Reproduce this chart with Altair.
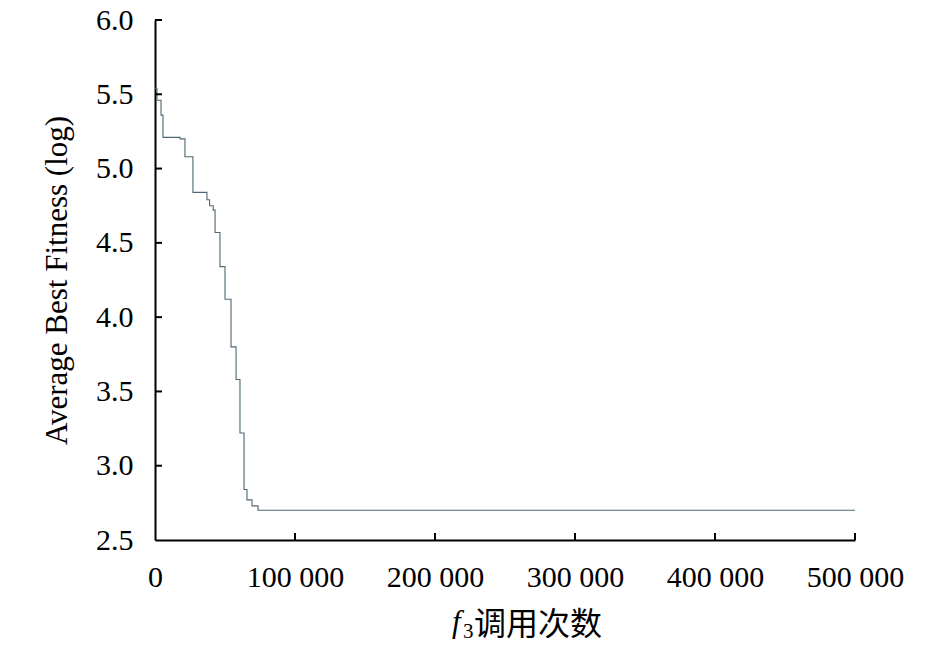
import altair as alt
import pandas as pd

# function evaluations vs. average best fitness (log)
evals = [0, 1400, 4300, 5700, 17900, 21400, 27100, 37100, 39000, 41600,
         42900, 46400, 50000, 54300, 57900, 60700, 63600, 65700, 69300,
         73600, 500000]
fitness = [5.54, 5.46, 5.36, 5.21, 5.20, 5.08, 4.84, 4.79, 4.75, 4.72,
           4.57, 4.34, 4.12, 3.80, 3.58, 3.22, 2.84, 2.77, 2.73,
           2.70, 2.70]

y_ticks = [2.5, 3.0, 3.5, 4.0, 4.5, 5.0, 5.5, 6.0]
x_ticks = [0, 100000, 200000, 300000, 400000, 500000]

serif = "Liberation Serif"
W, H = 700, 520

df = pd.DataFrame({"evals": evals, "fitness": fitness})

x_scale = alt.Scale(domain=[0, 500000], nice=False, zero=False)
y_scale = alt.Scale(domain=[2.5, 6.0], nice=False, zero=False)

line = (
    alt.Chart(df)
    .mark_line(interpolate="step-after", color="#4d6872", strokeWidth=1.1)
    .encode(
        x=alt.X(
            "evals:Q",
            scale=x_scale,
            axis=alt.Axis(
                values=x_ticks,
                labelExpr="datum.value == 0 ? '0' : format(datum.value / 1000, 'd') + ' 000'",
                title=None,
                ticks=False,
                grid=False,
                domainColor="black",
                domainWidth=2,
                labelFont=serif,
                labelFontSize=30,
                labelColor="black",
                labelPadding=22,
                labelFlush=False,
                labelOverlap=False,
            ),
        ),
        y=alt.Y(
            "fitness:Q",
            scale=y_scale,
            axis=alt.Axis(
                values=y_ticks,
                format=".1f",
                title="Average Best Fitness (log)",
                titleFont=serif,
                titleFontSize=31,
                titleFontWeight="normal",
                titleColor="black",
                titlePadding=22,
                ticks=False,
                grid=False,
                domainColor="black",
                domainWidth=2,
                labelFont=serif,
                labelFontSize=30,
                labelColor="black",
                labelPadding=22,
                labelFlush=False,
                labelOverlap=False,
            ),
        ),
    )
)

# inward-pointing tick marks
ytick_marks = (
    alt.Chart(pd.DataFrame({"v": y_ticks[1:]}))
    .mark_rule(color="black", strokeWidth=2)
    .encode(y=alt.Y("v:Q", scale=y_scale), x=alt.value(0), x2=alt.value(7))
)
xtick_marks = (
    alt.Chart(pd.DataFrame({"v": x_ticks[1:]}))
    .mark_rule(color="black", strokeWidth=2)
    .encode(x=alt.X("v:Q", scale=x_scale), y=alt.value(H), y2=alt.value(H - 7))
)

# x title: italic f, subscript 3, then Chinese text
f_txt = alt.Chart(pd.DataFrame({"t": ["f"]})).mark_text(
    font=serif, fontSize=31, fontStyle="italic", align="left", baseline="alphabetic"
).encode(text="t:N", x=alt.value(297), y=alt.value(612))
sub_txt = alt.Chart(pd.DataFrame({"t": ["3"]})).mark_text(
    font=serif, fontSize=21, align="left", baseline="alphabetic"
).encode(text="t:N", x=alt.value(308), y=alt.value(618))
cn_txt = alt.Chart(pd.DataFrame({"t": ["调用次数"]})).mark_text(
    font="Noto Sans CJK SC", fontSize=32, align="left", baseline="middle"
).encode(text="t:N", x=alt.value(319), y=alt.value(605))

chart = (
    alt.layer(line, ytick_marks, xtick_marks, f_txt, sub_txt, cn_txt)
    .resolve_scale(x="shared", y="shared")
    .properties(
        width=W,
        height=H,
        autosize=alt.AutoSizeParams(type="none"),
        padding={"left": 147, "top": 12, "right": 80, "bottom": 100},
        background="white",
    )
    .configure_view(stroke=None)
)

chart.save("out.html", embed_options={"renderer": "svg", "actions": False})
